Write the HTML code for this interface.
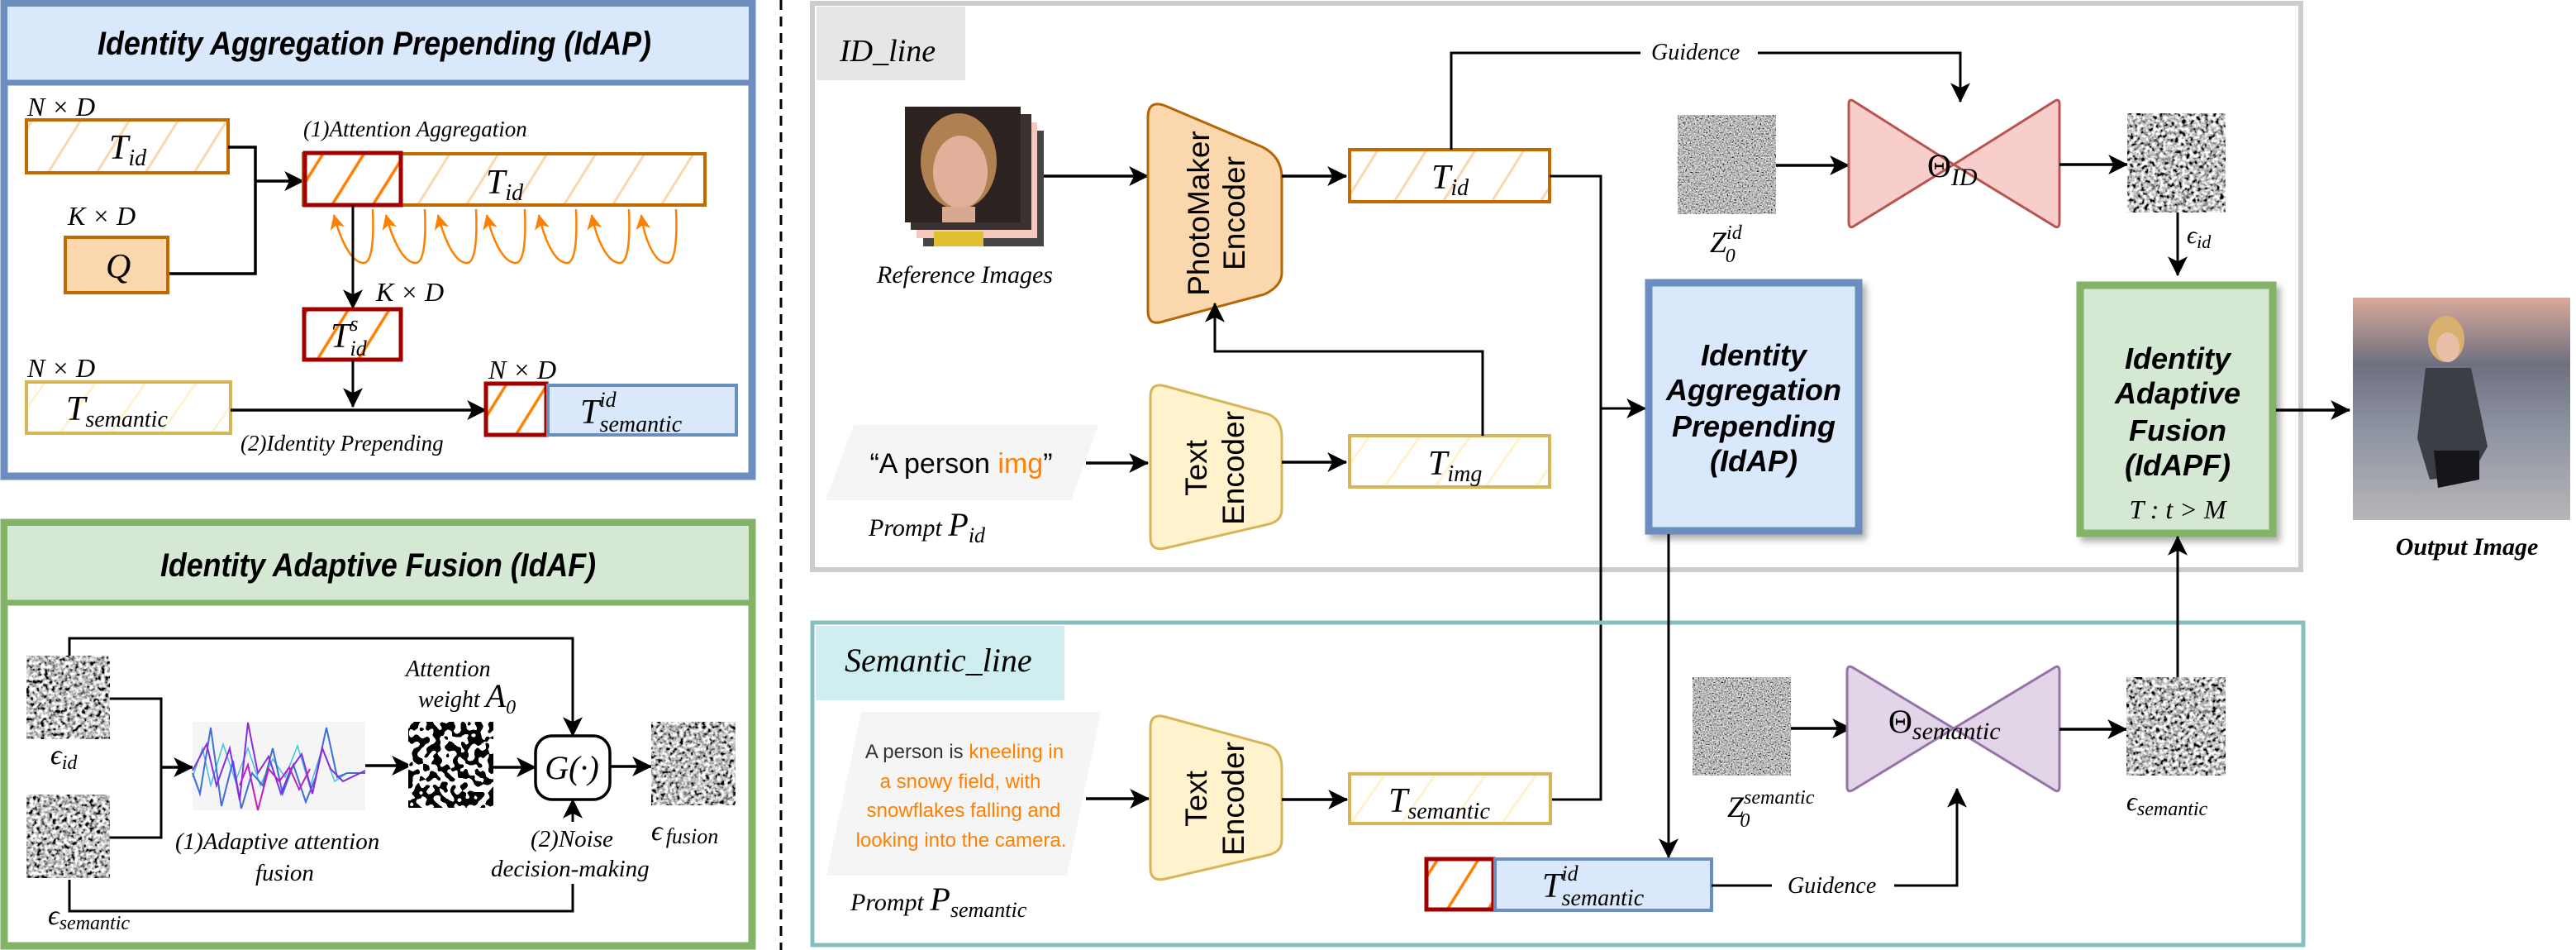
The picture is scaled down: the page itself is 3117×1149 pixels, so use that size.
<!DOCTYPE html>
<html><head><meta charset="utf-8"><style>
html,body{margin:0;padding:0;background:#fff}
svg{display:block}
.m{font-family:"Liberation Serif",serif;font-style:italic;fill:#000}
.t{font-family:"Liberation Sans",sans-serif;font-weight:bold;font-style:italic;fill:#000}
.s{font-family:"Liberation Sans",sans-serif;fill:#000}
</style></head><body>
<svg width="3117" height="1149" viewBox="0 0 3117 1149" xmlns="http://www.w3.org/2000/svg">
<defs>
<marker id="a" viewBox="0 0 20 20" refX="19" refY="10" markerWidth="24" markerHeight="24" markerUnits="userSpaceOnUse" orient="auto"><path d="M0 0 L20 10 L0 20 L5 10 Z" fill="#000"/></marker>
<marker id="ao" viewBox="0 0 20 20" refX="19" refY="10" markerWidth="18" markerHeight="18" markerUnits="userSpaceOnUse" orient="auto"><path d="M0 0 L20 10 L0 20 L5 10 Z" fill="#ff8000"/></marker>
<pattern id="hLO" width="50" height="50" patternUnits="userSpaceOnUse" patternTransform="rotate(32)"><rect width="50" height="50" fill="#fff"/><line x1="10" y1="0" x2="10" y2="50" stroke="#fad7ac" stroke-width="3"/></pattern>
<pattern id="hY" width="50" height="50" patternUnits="userSpaceOnUse" patternTransform="rotate(35)"><rect width="50" height="50" fill="#fff"/><line x1="10" y1="0" x2="10" y2="50" stroke="#fff2cc" stroke-width="3"/></pattern>
<pattern id="hO" width="42" height="42" patternUnits="userSpaceOnUse" patternTransform="rotate(32)"><rect width="42" height="42" fill="#fff"/><line x1="10" y1="0" x2="10" y2="42" stroke="#ff8000" stroke-width="3.5"/></pattern>
<filter id="nf" x="0" y="0" width="1" height="1"><feTurbulence type="fractalNoise" baseFrequency="0.6" numOctaves="2" seed="4"/><feColorMatrix type="matrix" values="0.33 0.33 0.33 0 0 0.33 0.33 0.33 0 0 0.33 0.33 0.33 0 0 0 0 0 0 1"/><feComponentTransfer><feFuncR type="linear" slope="3" intercept="-1"/><feFuncG type="linear" slope="3" intercept="-1"/><feFuncB type="linear" slope="3" intercept="-1"/></feComponentTransfer></filter>
<filter id="nc" x="0" y="0" width="1" height="1"><feTurbulence type="fractalNoise" baseFrequency="0.22" numOctaves="2" seed="9"/><feColorMatrix type="matrix" values="0.33 0.33 0.33 0 0 0.33 0.33 0.33 0 0 0.33 0.33 0.33 0 0 0 0 0 0 1"/><feComponentTransfer><feFuncR type="linear" slope="4.5" intercept="-1.7"/><feFuncG type="linear" slope="4.5" intercept="-1.7"/><feFuncB type="linear" slope="4.5" intercept="-1.7"/></feComponentTransfer></filter>
<filter id="qr" x="0" y="0" width="1" height="1"><feTurbulence type="fractalNoise" baseFrequency="0.12" numOctaves="1" seed="2"/><feColorMatrix type="matrix" values="1 0 0 0 0 1 0 0 0 0 1 0 0 0 0 0 0 0 0 1"/><feComponentTransfer><feFuncR type="discrete" tableValues="0 1"/><feFuncG type="discrete" tableValues="0 1"/><feFuncB type="discrete" tableValues="0 1"/></feComponentTransfer></filter>
<filter id="sh" x="-10%" y="-10%" width="130%" height="130%"><feDropShadow dx="5" dy="6" stdDeviation="4" flood-color="#000" flood-opacity="0.3"/></filter>
<linearGradient id="og" x1="0" y1="0" x2="0" y2="1"><stop offset="0" stop-color="#d9a99a"/><stop offset="0.3" stop-color="#6e7080"/><stop offset="0.6" stop-color="#8e94a2"/><stop offset="1" stop-color="#b7b5b8"/></linearGradient>
</defs>

<line x1="945" y1="0" x2="945" y2="1149" stroke="#000" stroke-width="3" stroke-dasharray="12 8"/>

<rect x="5" y="4" width="905" height="572" fill="#fff" stroke="#6c8ebf" stroke-width="9"/>
<rect x="9" y="8" width="897" height="92" fill="#dae8fc"/>
<line x1="9" y1="100" x2="906" y2="100" stroke="#6c8ebf" stroke-width="7"/>
<text class="t" x="118" y="66" font-size="40" textLength="670" lengthAdjust="spacingAndGlyphs">Identity Aggregation Prepending (IdAP)</text>

<text class="m" x="33" y="140" font-size="32">N × D</text>
<rect x="32" y="145" width="244" height="64" fill="url(#hLO)" stroke="#c06a00" stroke-width="4"/>
<text class="m" x="132" y="192" font-size="42">T<tspan font-size="28" dy="8">id</tspan></text>
<path d="M276 178 H309 V331 H203" fill="none" stroke="#000" stroke-width="3.5"/>
<path d="M309 219 H367" fill="none" stroke="#000" stroke-width="3.5" marker-end="url(#a)"/>
<text class="m" x="82" y="272" font-size="32">K × D</text>
<rect x="79" y="287" width="124" height="67" fill="#fad7ac" stroke="#c06a00" stroke-width="4"/>
<text class="m" x="128" y="336" font-size="42">Q</text>

<text class="m" x="367" y="165" font-size="27">(1)Attention Aggregation</text>
<rect x="367" y="186" width="486" height="62" fill="url(#hLO)" stroke="#c06a00" stroke-width="4"/>
<rect x="369" y="185" width="116" height="63" fill="url(#hO)" stroke="#a20000" stroke-width="5"/>
<text class="m" x="588" y="234" font-size="42">T<tspan font-size="28" dy="8">id</tspan></text>
<g fill="none" stroke="#ff8000" stroke-width="2.5" marker-end="url(#ao)">
<path d="M451 253 C453 300 448 318 440 318 C425 318 412 290 404 260"/>
<path d="M514 253 C516 300 511 318 503 318 C488 318 475 290 467 260"/>
<path d="M576 253 C578 300 573 318 565 318 C550 318 538 290 530 260"/>
<path d="M635 253 C637 300 632 318 624 318 C609 318 596 290 589 260"/>
<path d="M697 253 C699 300 694 318 686 318 C671 318 659 290 652 260"/>
<path d="M761 253 C763 300 758 318 750 318 C735 318 722 290 716 260"/>
<path d="M818 253 C820 300 815 318 807 318 C792 318 780 290 776 260"/>
</g>
<path d="M427 248 V373" fill="none" stroke="#000" stroke-width="3" marker-end="url(#a)"/>
<text class="m" x="455" y="364" font-size="32">K × D</text>
<rect x="368" y="374" width="117" height="61" fill="url(#hO)" stroke="#a20000" stroke-width="5"/>
<text class="m" x="400" y="420" font-size="42">T<tspan font-size="26" dy="-20">s</tspan><tspan font-size="26" dx="-10" dy="30">id</tspan></text>
<path d="M427 435 V492" fill="none" stroke="#000" stroke-width="3" marker-end="url(#a)"/>
<text class="m" x="33" y="456" font-size="32">N × D</text>
<rect x="32" y="462" width="247" height="62" fill="url(#hY)" stroke="#d6b656" stroke-width="4"/>
<text class="m" x="80" y="508" font-size="42">T<tspan font-size="28" dy="8">semantic</tspan></text>
<path d="M279 496 H588" fill="none" stroke="#000" stroke-width="3.5" marker-end="url(#a)"/>
<text class="m" x="291" y="545" font-size="27">(2)Identity  Prepending</text>
<text class="m" x="591" y="458" font-size="32">N × D</text>
<rect x="588" y="464" width="73" height="62" fill="url(#hO)" stroke="#a20000" stroke-width="5"/>
<rect x="663" y="466" width="228" height="60" fill="#dae8fc" stroke="#6c8ebf" stroke-width="4"/>
<text class="m" x="702" y="512" font-size="42">T<tspan font-size="26" dy="-20">id</tspan><tspan font-size="28" dx="-20" dy="30">semantic</tspan></text>

<rect x="5" y="632" width="905" height="512" fill="#fff" stroke="#82b366" stroke-width="9"/>
<rect x="9" y="636" width="897" height="93" fill="#d5e8d4"/>
<line x1="9" y1="729" x2="906" y2="729" stroke="#82b366" stroke-width="7"/>
<text class="t" x="194" y="697" font-size="40" textLength="527" lengthAdjust="spacingAndGlyphs">Identity Adaptive Fusion (IdAF)</text>

<rect x="32" y="793" width="101" height="101" fill="#fff" filter="url(#nc)"/>
<text class="m" x="61" y="924" font-size="34">ϵ<tspan font-size="24" dy="6">id</tspan></text>
<rect x="32" y="961" width="101" height="101" fill="#fff" filter="url(#nc)"/>
<text class="m" x="58" y="1118" font-size="34">ϵ<tspan font-size="24" dy="6">semantic</tspan></text>
<path d="M84 793 V772 H693 V890" fill="none" stroke="#000" stroke-width="3" marker-end="url(#a)"/>
<path d="M133 845 H195 V1013 H133" fill="none" stroke="#000" stroke-width="3"/>
<path d="M195 928 H233" fill="none" stroke="#000" stroke-width="3.5" marker-end="url(#a)"/>
<rect x="233" y="873" width="209" height="107" fill="#f5f5f5"/>
<polyline fill="none" stroke="#40c0e0" stroke-width="1.5" points="233,940 245,905 255,950 270,900 285,945 300,905 315,950 330,918 345,940 360,902 375,952 390,905 405,945 420,935 442,935"/>
<polyline fill="none" stroke="#3a6fd8" stroke-width="2" points="233,935 242,960 255,880 268,975 282,920 292,978 305,935 318,950 330,905 342,960 355,925 370,970 382,940 395,880 408,940 420,935 442,935"/>
<polyline fill="none" stroke="#8a2be2" stroke-width="2" points="233,932 250,900 262,950 278,905 290,968 300,874 312,935 325,915 340,960 352,930 365,912 378,960 390,905 400,930 415,945 442,932"/>
<polyline fill="none" stroke="#c020c0" stroke-width="2" points="290,950 300,925 312,980 325,930 338,945 350,928 362,955 375,930"/>
<path d="M442 926 H497" fill="none" stroke="#000" stroke-width="3.5" marker-end="url(#a)"/>
<rect x="494" y="873" width="103" height="104" fill="#fff" filter="url(#qr)"/>
<text class="m" x="491" y="818" font-size="28">Attention</text>
<text class="m" x="506" y="855" font-size="28">weight <tspan font-size="40">A</tspan><tspan font-size="24" dy="8">0</tspan></text>
<path d="M597 928 H648" fill="none" stroke="#000" stroke-width="3.5" marker-end="url(#a)"/>
<rect x="648" y="890" width="90" height="77" rx="20" fill="#fff" stroke="#000" stroke-width="3.5"/>
<text class="m" x="692" y="942" font-size="40" text-anchor="middle">G(·)</text>
<path d="M738 927 H788" fill="none" stroke="#000" stroke-width="3.5" marker-end="url(#a)"/>
<rect x="788" y="873" width="102" height="101" fill="#fff" filter="url(#nc)"/>
<text class="m" x="788" y="1016" font-size="34">ϵ<tspan font-size="26" dx="4" dy="4">fusion</tspan></text>
<path d="M84 1064 V1102 H693 V1069" fill="none" stroke="#000" stroke-width="3"/>
<path d="M693 994 V967" fill="none" stroke="#000" stroke-width="3" marker-end="url(#a)"/>
<text class="m" x="212" y="1027" font-size="29">(1)Adaptive attention</text>
<text class="m" x="309" y="1065" font-size="29">fusion</text>
<text class="m" x="642" y="1024" font-size="29">(2)Noise</text>
<text class="m" x="594" y="1060" font-size="29">decision-making</text>

<rect x="983" y="4" width="1801" height="685" fill="#fff" stroke="#cccccc" stroke-width="6"/>
<rect x="988" y="8" width="180" height="89" fill="#e6e6e6"/>
<text class="m" x="1016" y="74" font-size="38">ID_line</text>

<rect x="1117" y="158" width="146" height="140" fill="#444"/>
<rect x="1109" y="148" width="146" height="140" fill="#f4c8bd"/>
<rect x="1102" y="138" width="146" height="140" fill="#3a3230"/>
<rect x="1095" y="129" width="140" height="140" fill="#2c2220"/>
<ellipse cx="1160" cy="195" rx="46" ry="58" fill="#b08050"/>
<ellipse cx="1162" cy="208" rx="33" ry="44" fill="#e0b09a"/>
<rect x="1140" y="250" width="40" height="19" fill="#d8a890"/>
<rect x="1130" y="280" width="60" height="18" fill="#e0c030"/>
<text class="m" x="1061" y="342" font-size="30">Reference Images</text>
<path d="M1263 213 H1389" fill="none" stroke="#000" stroke-width="3.5" marker-end="url(#a)"/>

<path d="M1389 142 Q1389 120 1410 128 L1528 178 Q1551 190 1551 215 V330 Q1551 346 1530 356 L1410 388 Q1389 396 1389 376 Z" fill="#fad7ac" stroke="#b46504" stroke-width="3"/>
<text class="s" font-size="37" text-anchor="middle" transform="translate(1450,258) rotate(-90)" dy="13">PhotoMaker</text>
<text class="s" font-size="37" text-anchor="middle" transform="translate(1493,258) rotate(-90)" dy="13">Encoder</text>
<path d="M1551 213 H1629" fill="none" stroke="#000" stroke-width="3.5" marker-end="url(#a)"/>
<rect x="1633" y="181" width="242" height="63" fill="url(#hLO)" stroke="#c06a00" stroke-width="4"/>
<text class="m" x="1732" y="228" font-size="42">T<tspan font-size="28" dy="8">id</tspan></text>
<path d="M1756 181 V64 H1985" fill="none" stroke="#000" stroke-width="3"/>
<text class="m" x="1998" y="72" font-size="28">Guidence</text>
<path d="M2127 64 H2372 V123" fill="none" stroke="#000" stroke-width="3" marker-end="url(#a)"/>
<path d="M1875 213 H1937 V967 H1876" fill="none" stroke="#000" stroke-width="3"/>
<path d="M1937 494 H1991" fill="none" stroke="#000" stroke-width="3" marker-end="url(#a)"/>

<polygon points="1033,514 1329,514 1296,605 999,605" fill="#f5f5f5"/>
<text class="s" x="1163" y="572" font-size="34" text-anchor="middle">“A person <tspan fill="#ff8000">img</tspan>”</text>
<text class="m" x="1051" y="648" font-size="30">Prompt <tspan font-size="40">P</tspan><tspan font-size="26" dy="8">id</tspan></text>
<path d="M1314 560 H1389" fill="none" stroke="#000" stroke-width="3.5" marker-end="url(#a)"/>
<path d="M1392 480 Q1392 462 1410 467 L1535 501 Q1551 508 1551 529 V616 Q1551 630 1535 634 L1410 663 Q1392 667 1392 650 Z" fill="#fff2cc" stroke="#d6b656" stroke-width="3"/>
<text class="s" font-size="37" text-anchor="middle" transform="translate(1447,566) rotate(-90)" dy="13">Text</text>
<text class="s" font-size="37" text-anchor="middle" transform="translate(1492,566) rotate(-90)" dy="13">Encoder</text>
<path d="M1551 559 H1629" fill="none" stroke="#000" stroke-width="3.5" marker-end="url(#a)"/>
<rect x="1633" y="527" width="242" height="62" fill="url(#hY)" stroke="#d6b656" stroke-width="4"/>
<text class="m" x="1728" y="574" font-size="42">T<tspan font-size="28" dy="8">img</tspan></text>
<path d="M1794 527 V425 H1470 V367" fill="none" stroke="#000" stroke-width="3" marker-end="url(#a)"/>

<rect x="1995" y="342" width="254" height="300" fill="#dae8fc" stroke="#6c8ebf" stroke-width="9" filter="url(#sh)"/>
<g class="t" font-size="36" text-anchor="middle">
<text x="2122" y="442">Identity</text><text x="2122" y="484">Aggregation</text><text x="2122" y="528">Prepending</text><text x="2122" y="570">(IdAP)</text></g>

<rect x="2030" y="139" width="119" height="120" fill="#fff" filter="url(#nf)"/>
<text class="m" x="2069" y="305" font-size="36">Z<tspan font-size="24" dy="-16">id</tspan><tspan font-size="24" dx="-20" dy="28">0</tspan></text>
<path d="M2149 200 H2237" fill="none" stroke="#000" stroke-width="3.5" marker-end="url(#a)"/>
<path d="M2237 126 Q2237 118 2244 123 L2364 199 L2485 123 Q2492 118 2492 126 V268 Q2492 278 2485 273 L2364 199 L2244 273 Q2237 278 2237 268 Z" fill="#f8cecc" stroke="#b85450" stroke-width="3"/>
<text class="m" x="2332" y="214" font-size="40" style="font-style:normal">Θ<tspan class="m" font-size="30" dy="10" style="font-style:italic">ID</tspan></text>
<path d="M2492 199 H2574" fill="none" stroke="#000" stroke-width="3.5" marker-end="url(#a)"/>
<rect x="2574" y="137" width="119" height="120" fill="#fff" filter="url(#nc)"/>
<path d="M2635 257 V333" fill="none" stroke="#000" stroke-width="3" marker-end="url(#a)"/>
<text class="m" x="2646" y="294" font-size="30">ϵ<tspan font-size="22" dy="6">id</tspan></text>

<rect x="2517" y="345" width="233" height="300" fill="#d5e8d4" stroke="#82b366" stroke-width="9" filter="url(#sh)"/>
<g class="t" font-size="36" text-anchor="middle">
<text x="2635" y="446">Identity</text><text x="2635" y="488">Adaptive</text><text x="2635" y="533">Fusion</text><text x="2635" y="575">(IdAPF)</text></g>
<text class="m" x="2635" y="627" font-size="32" text-anchor="middle">T : t &gt; M</text>
<path d="M2754 496 H2843" fill="none" stroke="#000" stroke-width="3.5" marker-end="url(#a)"/>
<rect x="2847" y="360" width="263" height="269" fill="url(#og)"/>
<ellipse cx="2960" cy="410" rx="22" ry="28" fill="#d8b070"/>
<ellipse cx="2962" cy="420" rx="14" ry="18" fill="#e8c0a8"/>
<path d="M2935 445 L2990 445 L3010 540 L2990 575 L2940 580 L2925 530 Z" fill="#3c3e46"/>
<path d="M2945 545 L3000 545 L3000 580 L2950 590 Z" fill="#15151a"/>
<text class="t" x="2985" y="671" font-size="30" text-anchor="middle" style="font-family:'Liberation Serif',serif">Output Image</text>

<rect x="983" y="753" width="1804" height="390" fill="none" stroke="#87bfc1" stroke-width="5"/>
<rect x="987" y="757" width="301" height="90" fill="#d0eef0"/>
<text class="m" x="1022" y="812" font-size="40">Semantic_line</text>
<polygon points="1042,861 1332,861 1291,1059 1000,1059" fill="#f5f5f5"/>
<g class="s" font-size="24" text-anchor="middle" fill="#ff8000">
<text x="1167" y="917"><tspan fill="#333">A person is </tspan><tspan fill="#ff8000">kneeling in</tspan></text>
<text x="1162" y="953" fill="#ff8000">a snowy field, with</text>
<text x="1166" y="988" fill="#ff8000">snowflakes falling and</text>
<text x="1163" y="1024" fill="#ff8000">looking into the camera.</text></g>
<text class="m" x="1029" y="1101" font-size="30">Prompt <tspan font-size="40">P</tspan><tspan font-size="26" dy="8">semantic</tspan></text>
<path d="M1314 966 H1390" fill="none" stroke="#000" stroke-width="3.5" marker-end="url(#a)"/>
<path d="M1392 880 Q1392 862 1410 867 L1535 901 Q1551 908 1551 929 V1016 Q1551 1030 1535 1034 L1410 1063 Q1392 1067 1392 1050 Z" fill="#fff2cc" stroke="#d6b656" stroke-width="3"/>
<text class="s" font-size="37" text-anchor="middle" transform="translate(1447,966) rotate(-90)" dy="13">Text</text>
<text class="s" font-size="37" text-anchor="middle" transform="translate(1492,966) rotate(-90)" dy="13">Encoder</text>
<path d="M1551 967 H1630" fill="none" stroke="#000" stroke-width="3.5" marker-end="url(#a)"/>
<rect x="1633" y="936" width="243" height="60" fill="url(#hY)" stroke="#d6b656" stroke-width="4"/>
<text class="m" x="1680" y="982" font-size="42">T<tspan font-size="28" dy="8">semantic</tspan></text>
<path d="M2019 646 V1037" fill="none" stroke="#000" stroke-width="3" marker-end="url(#a)"/>
<rect x="1726" y="1039" width="81" height="61" fill="url(#hO)" stroke="#a20000" stroke-width="5"/>
<rect x="1809" y="1039" width="262" height="62" fill="#dae8fc" stroke="#6c8ebf" stroke-width="4"/>
<text class="m" x="1866" y="1085" font-size="42">T<tspan font-size="26" dy="-20">id</tspan><tspan font-size="28" dx="-20" dy="30">semantic</tspan></text>
<path d="M2071 1071 H2144" fill="none" stroke="#000" stroke-width="3"/>
<text class="m" x="2163" y="1080" font-size="28">Guidence</text>
<path d="M2292 1071 H2368 V954" fill="none" stroke="#000" stroke-width="3" marker-end="url(#a)"/>
<rect x="2048" y="819" width="119" height="119" fill="#fff" filter="url(#nf)"/>
<text class="m" x="2090" y="988" font-size="36">Z<tspan font-size="24" dy="-16">semantic</tspan><tspan font-size="24" dx="-90" dy="28">0</tspan></text>
<path d="M2167 881 H2240" fill="none" stroke="#000" stroke-width="3.5" marker-end="url(#a)"/>
<path d="M2235 812 Q2235 803 2243 808 L2364 881 L2485 808 Q2492 803 2492 812 V951 Q2492 960 2485 955 L2364 881 L2243 955 Q2235 960 2235 951 Z" fill="#e1d5e7" stroke="#9673a6" stroke-width="3"/>
<text class="m" x="2285" y="886" font-size="40" style="font-style:normal">Θ<tspan class="m" font-size="30" dy="8" style="font-style:italic">semantic</tspan></text>
<path d="M2492 882 H2573" fill="none" stroke="#000" stroke-width="3.5" marker-end="url(#a)"/>
<rect x="2573" y="819" width="120" height="119" fill="#fff" filter="url(#nc)"/>
<text class="m" x="2573" y="980" font-size="32">ϵ<tspan font-size="24" dy="6">semantic</tspan></text>
<path d="M2635 819 V649" fill="none" stroke="#000" stroke-width="3" marker-end="url(#a)"/>
</svg>
</body></html>
